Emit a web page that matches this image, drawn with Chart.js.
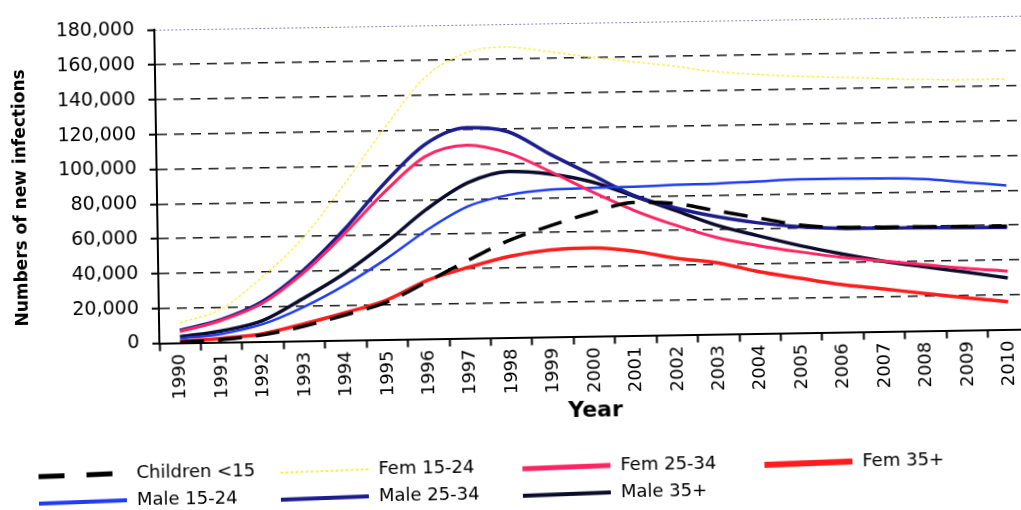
<!DOCTYPE html>
<html>
<head>
<meta charset="utf-8">
<script src="https://cdn.jsdelivr.net/npm/chart.js@4.4.0/dist/chart.umd.min.js"></script>
<style>
    html, body { margin: 0; padding: 0; background: #fff; overflow: hidden; }
    /* the scanned original is tilted a little, so the whole chart is turned with it;
       the plot also runs a bit past the right edge of the picture */
    #wrap { position: relative; width: 1032px; height: 510px; transform: rotate(-0.93deg); transform-origin: 510px 255px; }
</style>
</head>
<body>
<div id="wrap"><canvas id="infectionsChart"></canvas></div>
<script>
// Données
const years = ['1990', '1991', '1992', '1993', '1994', '1995', '1996', '1997', '1998', '1999', '2000',
               '2001', '2002', '2003', '2004', '2005', '2006', '2007', '2008', '2009', '2010'];
const yTicks = [0, 20000, 40000, 60000, 80000, 100000, 120000, 140000, 160000, 180000];
const yTitle = 'Numbers of new infections';

const children = [300, 1500, 3800, 8500, 14500, 21500, 33000, 45000, 56000, 64000, 71000,
                  76500, 75500, 70900, 66400, 62000, 60200, 60000, 59800, 59500, 59300];
const fem1524 = [11500, 19000, 37000, 59000, 89000, 121000, 150000, 164000, 167000, 164000, 160500,
                 157500, 154500, 151000, 149000, 147500, 146500, 145500, 144500, 144000, 144000];
const fem2534 = [6500, 12500, 22000, 39000, 61000, 85000, 105000, 111000, 106000, 95000, 83000,
                 72000, 63000, 55500, 50500, 46500, 43000, 40500, 38000, 35500, 33500];
const fem35 = [800, 2200, 4500, 9800, 15800, 22700, 33700, 40800, 46700, 50000, 50800,
               48500, 44000, 41000, 35500, 31300, 27300, 24400, 21400, 18600, 15900];
const male1524 = [2500, 4800, 10000, 19500, 31700, 46200, 62500, 75800, 82000, 84600, 85200,
                  85500, 86200, 86500, 87400, 88200, 88300, 88000, 87200, 85000, 82800];
const male2534 = [7200, 13000, 23000, 40500, 63500, 90000, 112000, 121000, 118300, 105000, 92800,
                  80600, 73000, 67500, 63600, 61000, 59700, 59400, 59200, 58900, 58700];
const male35 = [3500, 6500, 12000, 24500, 38500, 55500, 74500, 89300, 95500, 93600, 88700,
                80200, 71500, 62600, 56100, 50100, 45000, 40400, 36800, 33300, 29600];

document.addEventListener('DOMContentLoaded', function() {
    initChart();
});

// Titre de l'axe Y (un peu plus bas que le centre) et légende sous le graphique, 4 colonnes
const bottomLegend = {
    id: 'bottomLegend',
    afterDraw(chart) {
        const ctx = chart.ctx;
        const cols = [35, 277, 519, 761];
        const rows = [467, 494];

        ctx.save();
        ctx.translate(23, 190);
        ctx.rotate(-Math.PI / 2);
        ctx.font = 'bold 17px "DejaVu Sans"';
        ctx.textAlign = 'center';
        ctx.textBaseline = 'middle';
        ctx.fillStyle = '#000';
        ctx.fillText(yTitle, 0, 0);
        ctx.restore();

        ctx.save();
        ctx.font = '18px "DejaVu Sans"';
        ctx.textBaseline = 'middle';
        chart.data.datasets.forEach((ds, i) => {
            const x = cols[i % 4];
            const y = rows[Math.floor(i / 4)];
            ctx.beginPath();
            ctx.strokeStyle = ds.borderColor;
            ctx.lineWidth = ds.legendWidth;
            ctx.setLineDash(ds.legendDash || []);
            ctx.moveTo(x, y + 2);
            ctx.lineTo(x + 88, y);
            ctx.stroke();
            ctx.setLineDash([]);
            ctx.fillStyle = '#000';
            ctx.fillText(ds.label, x + 98, y);
        });
        ctx.restore();
    }
};

function initChart() {
    const ctx = document.getElementById('infectionsChart');
    const line = (label, data, color, width, dash, legendWidth, legendDash) => ({
        label: label,
        data: data,
        borderColor: color,
        borderWidth: width,
        borderDash: dash,
        legendWidth: legendWidth,
        legendDash: legendDash,
        pointRadius: 0,
        fill: false,
        cubicInterpolationMode: 'monotone'
    });

    window.infectionsChart = new Chart(ctx, {
        type: 'line',
        data: {
            labels: years,
            datasets: [
                line('Children <15', children, '#000000', 3.5, [24, 14], 5, [26, 22]),
                line('Fem 15-24', fem1524, '#f7ef55', 1.5, [3, 2], 2, [3, 2]),
                line('Fem 25-34', fem2534, '#ff2463', 3, [], 5),
                line('Fem 35+', fem35, '#ff1c1c', 3.5, [], 6),
                line('Male 15-24', male1524, '#1f3cf0', 2.5, [], 4),
                line('Male 25-34', male2534, '#1c1c8c', 3.5, [], 4),
                line('Male 35+', male35, '#0b0b2e', 3.5, [], 4)
            ]
        },
        options: {
            responsive: true,
            maintainAspectRatio: false,
            animation: false,
            layout: {
                padding: { top: 22, right: 0, bottom: 80, left: 0 }
            },
            plugins: {
                legend: { display: false },
                tooltip: { enabled: false }
            },
            scales: {
                x: {
                    offset: true,
                    grid: {
                        offset: true,
                        drawOnChartArea: false,
                        drawTicks: true,
                        tickLength: 8,
                        tickWidth: 2,
                        tickColor: '#000'
                    },
                    border: { color: '#000', width: 2 },
                    ticks: {
                        autoSkip: false,
                        minRotation: 90,
                        maxRotation: 90,
                        padding: 3,
                        color: '#000',
                        font: { family: 'DejaVu Sans', size: 18 }
                    },
                    title: {
                        display: true,
                        text: 'Year',
                        color: '#000',
                        padding: { top: 0, bottom: 5 },
                        font: { family: 'DejaVu Sans', size: 22, weight: 'bold' }
                    },
                    afterFit: function(scale) {
                        scale.height = 92.5;
                    }
                },
                y: {
                    min: 0,
                    max: 180000,
                    afterBuildTicks: function(scale) {
                        scale.ticks = yTicks.map(v => ({ value: v }));
                    },
                    grid: {
                        color: function(c) {
                            if (!c.tick) return '#000';
                            if (c.tick.value === 180000) return '#8a80c8';
                            if (c.tick.value === 0) return 'rgba(0,0,0,0)';
                            return '#1a1a1a';
                        },
                        lineWidth: function(c) {
                            return c.tick && c.tick.value === 180000 ? 1 : 1.6;
                        },
                        drawTicks: true,
                        tickLength: 7,
                        tickWidth: 2,
                        tickColor: '#000'
                    },
                    border: {
                        color: '#000',
                        width: 2,
                        dash: function(c) {
                            if (!c.tick) return [];
                            return c.tick.value === 180000 ? [2, 2] : [10, 7];
                        }
                    },
                    ticks: {
                        padding: 13,
                        color: '#000',
                        font: { family: 'DejaVu Sans', size: 19 },
                        callback: function(value) {
                            return value.toLocaleString('en-US');
                        }
                    },
                    afterFit: function(scale) {
                        scale.width = 158;
                    }
                }
            }
        },
        plugins: [bottomLegend]
    });
}
</script>
</body>
</html>
